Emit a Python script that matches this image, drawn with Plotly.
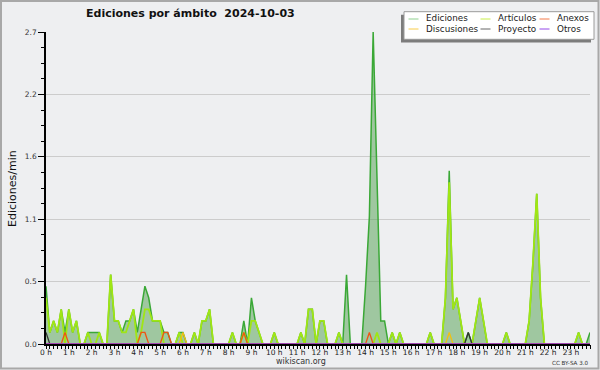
import plotly.graph_objects as go

# ---- data: edits per minute, one value per 10-minute slot (6 per hour) ----
slots = list(range(144))

ediciones = [
    0.5, 0.1, 0.2, 0.1, 0.3, 0.1,   # 0 h
    0.3, 0.1, 0.2, 0, 0, 0.1,       # 1 h
    0.1, 0.1, 0.1, 0, 0, 0.6,       # 2 h
    0.2, 0.2, 0.1, 0.2, 0.2, 0.3,   # 3 h
    0.1, 0.3, 0.5, 0.4, 0.2, 0.2,   # 4 h
    0.2, 0.1, 0.1, 0, 0, 0.1,       # 5 h
    0.1, 0, 0, 0.1, 0, 0.2,         # 6 h
    0.2, 0.3, 0, 0, 0, 0,           # 7 h
    0, 0.1, 0, 0, 0.2, 0,           # 8 h
    0.4, 0.2, 0.1, 0, 0, 0,         # 9 h
    0.1, 0, 0, 0, 0, 0,             # 10 h
    0, 0.1, 0, 0.3, 0.3, 0,         # 11 h
    0.2, 0.2, 0, 0, 0, 0.1,         # 12 h
    0, 0.6, 0, 0, 0, 0,             # 13 h
    0.5, 1.1, 2.7, 1.4, 0.2, 0.2,   # 14 h
    0, 0.1, 0, 0.1, 0, 0,           # 15 h
    0, 0, 0, 0, 0, 0.1,             # 16 h
    0, 0, 0, 0.4, 1.5, 0.3,         # 17 h
    0.4, 0.2, 0, 0.1, 0, 0.2,       # 18 h
    0.4, 0.2, 0, 0, 0, 0,           # 19 h
    0, 0.1, 0, 0, 0, 0,             # 20 h
    0, 0.2, 0.7, 1.3, 0.4, 0,       # 21 h
    0, 0, 0, 0, 0, 0,               # 22 h
    0, 0, 0.1, 0, 0, 0.1,           # 23 h
]

articulos = [
    0.4, 0.1, 0.2, 0.1, 0.3, 0,
    0.3, 0.1, 0.2, 0, 0, 0.1,
    0, 0, 0.1, 0, 0, 0.6,
    0.2, 0.2, 0.1, 0.1, 0.2, 0.3,
    0, 0.1, 0.3, 0.3, 0.2, 0.2,
    0.2, 0, 0, 0, 0, 0.1,
    0, 0, 0, 0.1, 0, 0.2,
    0.2, 0.3, 0, 0, 0, 0,
    0, 0.1, 0, 0, 0.1, 0,
    0.2, 0.2, 0.1, 0, 0, 0,
    0.1, 0, 0, 0, 0, 0,
    0, 0.1, 0, 0.3, 0.3, 0,
    0.2, 0.2, 0, 0, 0, 0.1,
    0, 0, 0, 0, 0, 0,
    0, 0, 0, 0.1, 0, 0,
    0, 0.1, 0, 0.1, 0, 0,
    0, 0, 0, 0, 0, 0.1,
    0, 0, 0, 0.4, 1.4, 0.3,
    0.4, 0.2, 0, 0, 0, 0.2,
    0.4, 0.2, 0, 0, 0, 0,
    0, 0.1, 0, 0, 0, 0,
    0, 0.2, 0.7, 1.3, 0.4, 0,
    0, 0, 0, 0, 0, 0,
    0, 0, 0.1, 0, 0, 0,
]

anexos = [
    0, 0, 0, 0, 0, 0.1,
    0, 0, 0, 0, 0, 0,
    0, 0, 0, 0, 0, 0,
    0, 0, 0, 0, 0, 0,
    0, 0.1, 0.1, 0, 0, 0,
    0, 0.1, 0.1, 0, 0, 0,
    0, 0, 0, 0, 0, 0,
    0, 0, 0, 0, 0, 0,
    0, 0, 0, 0, 0.1, 0,
    0, 0, 0, 0, 0, 0,
    0, 0, 0, 0, 0, 0,
    0, 0, 0, 0, 0, 0,
    0, 0, 0, 0, 0, 0,
    0, 0, 0, 0, 0, 0,
    0, 0.1, 0, 0, 0, 0,
    0, 0, 0, 0, 0, 0,
    0, 0, 0, 0, 0, 0,
    0, 0, 0, 0, 0, 0,
    0, 0, 0, 0, 0, 0,
    0, 0, 0, 0, 0, 0,
    0, 0, 0, 0, 0, 0,
    0, 0, 0, 0, 0, 0,
    0, 0, 0, 0, 0, 0,
    0, 0, 0, 0, 0, 0,
]

discusiones = [
    0, 0, 0, 0, 0, 0,
    0, 0, 0, 0, 0, 0,
    0, 0, 0, 0, 0, 0,
    0, 0, 0, 0, 0, 0,
    0, 0, 0, 0, 0, 0,
    0, 0, 0, 0, 0, 0,
    0.1, 0, 0, 0, 0, 0,
    0, 0, 0, 0, 0, 0,
    0, 0, 0, 0, 0, 0,
    0, 0, 0, 0, 0, 0,
    0, 0, 0, 0, 0, 0,
    0, 0, 0, 0, 0, 0,
    0, 0, 0, 0, 0, 0,
    0, 0, 0, 0, 0, 0,
    0, 0, 0, 0, 0, 0,
    0, 0, 0, 0, 0, 0,
    0, 0, 0, 0, 0, 0,
    0, 0, 0, 0, 0.1, 0,
    0, 0, 0, 0, 0, 0,
    0, 0, 0, 0, 0, 0,
    0, 0, 0, 0, 0, 0,
    0, 0, 0, 0, 0, 0,
    0, 0, 0, 0, 0, 0,
    0, 0, 0, 0, 0, 0,
]

proyecto = [
    0.1, 0, 0, 0, 0, 0,
    0, 0, 0, 0, 0, 0,
    0, 0, 0, 0, 0, 0,
    0, 0, 0, 0, 0, 0,
    0, 0, 0, 0, 0, 0,
    0, 0, 0, 0, 0, 0,
    0, 0, 0, 0, 0, 0,
    0, 0, 0, 0, 0, 0,
    0, 0, 0, 0, 0, 0,
    0, 0, 0, 0, 0, 0,
    0, 0, 0, 0, 0, 0,
    0, 0, 0, 0, 0, 0,
    0, 0, 0, 0, 0, 0,
    0, 0, 0, 0, 0, 0,
    0, 0, 0, 0, 0, 0,
    0, 0, 0, 0, 0, 0,
    0, 0, 0, 0, 0, 0,
    0, 0, 0, 0, 0, 0,
    0, 0, 0, 0.1, 0, 0,
    0, 0, 0, 0, 0, 0,
    0, 0, 0, 0, 0, 0,
    0, 0, 0, 0, 0, 0,
    0, 0, 0, 0, 0, 0,
    0, 0, 0, 0, 0, 0,
]

otros = [
    0, 0, 0, 0, 0, 0,  0, 0, 0, 0, 0, 0,  0, 0, 0, 0, 0, 0,  0, 0, 0, 0, 0, 0,
    0, 0, 0, 0, 0, 0,  0, 0, 0, 0, 0, 0,  0, 0, 0, 0, 0, 0,  0, 0, 0, 0, 0, 0,
    0, 0, 0, 0, 0, 0,  0, 0, 0, 0, 0, 0,  0, 0, 0, 0, 0, 0,  0, 0, 0, 0, 0, 0,
    0, 0, 0, 0, 0, 0,  0, 0, 0, 0, 0, 0,  0, 0, 0, 0, 0, 0,  0, 0, 0, 0, 0, 0,
    0, 0, 0, 0, 0, 0,  0, 0, 0, 0, 0, 0,  0, 0, 0, 0, 0, 0,  0, 0, 0, 0, 0, 0,
    0, 0, 0, 0, 0, 0,  0, 0, 0, 0, 0, 0,  0, 0, 0, 0, 0, 0,  0, 0, 0, 0, 0, 0,
]

hour_tickvals = [0, 6, 12, 18, 24, 30, 36, 42, 48, 54, 60, 66,
                 72, 78, 84, 90, 96, 102, 108, 114, 120, 126, 132, 138]
hour_labels = ["0 h", "1 h", "2 h", "3 h", "4 h", "5 h", "6 h", "7 h", "8 h", "9 h",
               "10 h", "11 h", "12 h", "13 h", "14 h", "15 h", "16 h", "17 h",
               "18 h", "19 h", "20 h", "21 h", "22 h", "23 h"]
y_tickvals = [0, 0.54, 1.08, 1.62, 2.16, 2.7]
y_labels = ["0.0", "0.5", "1.1", "1.6", "2.2", "2.7"]

legend_names = ["Ediciones", "Artículos", "Anexos", "Discusiones", "Proyecto", "Otros"]
legend_colors = ["#8fd08f", "#c8ee48", "#f47a4a", "#f8cc48", "#666666", "#9448e8"]

# ---- geometry helpers (pixel -> paper) ----
W, H = 600, 370
ML, MR, MT, MB = 46, 10, 32, 26
PW, PH = W - ML - MR, H - MT - MB


def px(x):
    return (x - ML) / PW


def py(y):
    return (H - MB - y) / PH


FONT = "DejaVu Sans"
BG = "#eeeff1"

fig = go.Figure()
fig.add_trace(go.Scatter(x=slots, y=ediciones, mode="lines", name="Ediciones",
                         fill="tozeroy", fillcolor="rgba(80,160,80,0.5)",
                         line=dict(color="#3aa836", width=1.5), showlegend=False))
fig.add_trace(go.Scatter(x=slots, y=articulos, mode="lines", name="Artículos",
                         line=dict(color="#a0e614", width=1.8), showlegend=False))
fig.add_trace(go.Scatter(x=slots, y=otros, mode="lines", name="Otros", xaxis="x2",
                         line=dict(color="#8a3ee6", width=1.3), showlegend=False))
fig.add_trace(go.Scatter(x=slots, y=proyecto, mode="lines", name="Proyecto",
                         line=dict(color="#333333", width=1.3), showlegend=False))
fig.add_trace(go.Scatter(x=slots, y=discusiones, mode="lines", name="Discusiones",
                         line=dict(color="#f2c010", width=1.3), showlegend=False))
fig.add_trace(go.Scatter(x=slots, y=anexos, mode="lines", name="Anexos",
                         line=dict(color="#ee5514", width=1.3), showlegend=False))

shapes = []
annotations = []

# outer frame
shapes.append(dict(type="rect", xref="paper", yref="paper",
                   x0=px(1), x1=px(598.5), y0=py(1), y1=py(368.5),
                   line=dict(color="#a8a8a8", width=2), fillcolor="rgba(0,0,0,0)", layer="above"))

# legend box with shadow
shapes.append(dict(type="rect", xref="paper", yref="paper",
                   x0=px(401), x1=px(591), y0=py(14.7), y1=py(42.5),
                   line=dict(width=0), fillcolor="#7c7c7c", layer="above"))
shapes.append(dict(type="rect", xref="paper", yref="paper",
                   x0=px(404), x1=px(594), y0=py(11.7), y1=py(39.3),
                   line=dict(color="#9a9a9a", width=1), fillcolor="#ffffff", layer="above"))

col_line_x = [(408.5, 418.5), (480.5, 490.5), (539.5, 549.5)]
col_text_x = [423.5, 495.5, 554.5]
row_y = [19.0, 29.0]
for k, (name, color) in enumerate(zip(legend_names, legend_colors)):
    r, c = divmod(k, 3)
    x0, x1 = col_line_x[c]
    shapes.append(dict(type="line", xref="paper", yref="paper",
                       x0=px(x0), x1=px(x1), y0=py(row_y[r]), y1=py(row_y[r]),
                       line=dict(color=color, width=1), layer="above"))
    annotations.append(dict(text=name, xref="paper", yref="paper",
                            x=px(col_text_x[c]), y=py(row_y[r] - 0.5),
                            xanchor="left", yanchor="middle", showarrow=False,
                            font=dict(family=FONT, size=8.8, color="#222222")))

# title
annotations.append(dict(text="<b>Ediciones por ámbito  2024-10-03</b>", xref="paper", yref="paper",
                        x=px(84), y=py(13.5), xanchor="left", yanchor="middle", showarrow=False,
                        font=dict(family=FONT, size=11, color="#111111")))
# y axis title
annotations.append(dict(text="Ediciones/min", xref="paper", yref="paper",
                        x=px(12), y=py(189), xanchor="center", yanchor="middle",
                        textangle=-90, showarrow=False,
                        font=dict(family=FONT, size=11, color="#111111")))
# footer
annotations.append(dict(text="wikiscan.org", xref="paper", yref="paper",
                        x=px(300.5), y=py(361.5), xanchor="center", yanchor="middle", showarrow=False,
                        font=dict(family=FONT, size=8, color="#333333")))
annotations.append(dict(text="CC BY-SA 3.0", xref="paper", yref="paper",
                        x=px(589.5), y=py(362.5), xanchor="right", yanchor="middle", showarrow=False,
                        font=dict(family=FONT, size=5.6, color="#333333")))

fig.update_layout(
    width=W, height=H,
    margin=dict(l=ML, r=MR, t=MT, b=MB, pad=0),
    paper_bgcolor=BG, plot_bgcolor=BG,
    showlegend=False,
    shapes=shapes, annotations=annotations,
    # labelled hour axis (no tick marks of its own, so labels sit close to the axis)
    xaxis=dict(range=[0, 143], tickmode="array", tickvals=hour_tickvals, ticktext=hour_labels,
               ticks="", showline=True, linecolor="#000000", linewidth=1.5,
               showgrid=False, zeroline=False,
               tickfont=dict(family=FONT, size=7.5, color="#222222")),
    # overlaid axis carrying the 10-minute tick marks
    xaxis2=dict(range=[0, 143], overlaying="x", side="bottom", anchor="y",
                tickmode="linear", tick0=0, dtick=1,
                ticks="outside", ticklen=4, tickwidth=1, tickcolor="#000000",
                showticklabels=False, showline=False, showgrid=False, zeroline=False),
    yaxis=dict(range=[0, 2.7], tickmode="array", tickvals=y_tickvals, ticktext=y_labels,
               ticks="outside", ticklen=6, tickwidth=1, tickcolor="#000000",
               minor=dict(tick0=0, dtick=0.135, ticks="outside", ticklen=3, tickwidth=1,
                          tickcolor="#000000", showgrid=False),
               showline=True, linecolor="#000000", linewidth=1.5,
               showgrid=True, gridcolor="#cccccc", gridwidth=1, zeroline=False,
               tickfont=dict(family=FONT, size=7.5, color="#333333")),
)

fig.write_html("out.html", config={"displayModeBar": False},
               post_script="document.body.style.margin='0';")
